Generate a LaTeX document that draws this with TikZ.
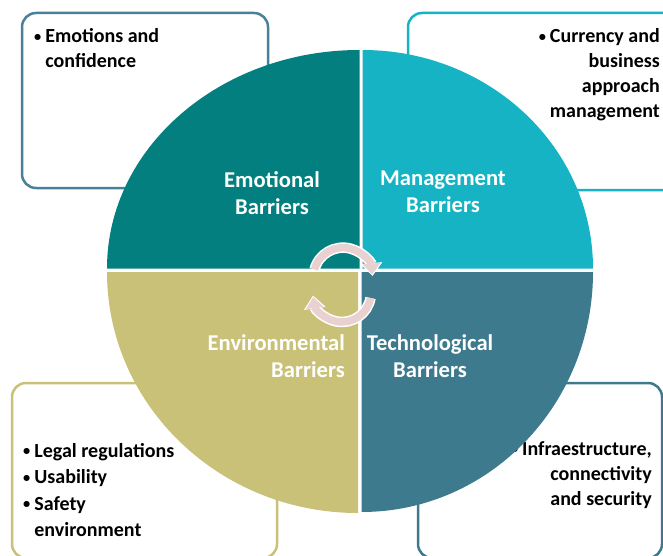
\documentclass[tikz,border=0pt]{standalone}
\usepackage{fontspec}
\setmainfont{Carlito}
\usetikzlibrary{arrows.meta}
\definecolor{emotional}{HTML}{037F7F}
\definecolor{management}{HTML}{15B3C3}
\definecolor{environmental}{HTML}{C9C177}
\definecolor{technological}{HTML}{3E7A8E}
\definecolor{emoline}{HTML}{4A8098}
\definecolor{cyclepink}{HTML}{E9D1D1}
\newcommand{\listdot}{\raisebox{1.5pt}{\scalebox{0.72}{\textbullet}}}
\begin{document}
\begin{tikzpicture}[x=1pt,y=-1pt,
    listbox/.style={line width=2.5pt,rounded corners=14pt},
    listtext/.style={inner sep=0pt,font=\bfseries\fontsize{20}{25}\selectfont},
    barrier/.style={inner sep=0pt,text=white,font=\bfseries\fontsize{22.6}{27}\selectfont},
    arrowrim/.style={white,line width=10.5pt,shorten >=-1.5pt,-{Triangle[width=21pt,length=13pt]}},
    arrowbody/.style={cyclepink,line width=7.5pt,-{Triangle[width=17pt,length=11pt]}}]
    \useasboundingbox (0,0) rectangle (663,556);
    \draw[listbox,emoline] (22,13) rectangle (268,188);
    \draw[listbox,management] (408,13) rectangle (690,190);
    \draw[listbox,environmental] (12,383) rectangle (277,558);
    \draw[listbox,technological] (418,383) rectangle (662,558);
    \node[listtext,anchor=base west] (emolist) at (34,43)
        {\begin{tabular}[t]{@{}l@{\hspace{4pt}}l@{}}\listdot & Emotions and\\ & confidence\end{tabular}};
    \node[listtext,anchor=base east] (mgmtlist) at (660,43)
        {\begin{tabular}[t]{@{}r@{}}\listdot\hspace{4pt}Currency and\\ business\\ approach\\ management\end{tabular}};
    \node[listtext,anchor=base west,font=\bfseries\fontsize{20}{26.5}\selectfont] (envlist) at (23,457)
        {\begin{tabular}[t]{@{}l@{\hspace{4pt}}l@{}}\listdot & Legal regulations\\ \listdot & Usability\\ \listdot & Safety\\ & environment\end{tabular}};
    \node[listtext,anchor=base east] (techlist) at (652,455)
        {\begin{tabular}[t]{@{}r@{}}\listdot\hspace{4pt}Infraestructure,\\ connectivity\\ and security\end{tabular}};
    \fill[emotional] (359.5,268.5) -- (107,268.5) arc[start angle=180,end angle=270,x radius=252.5,y radius=218.5] -- cycle;
    \fill[management] (362.5,268.5) -- (362.5,50) arc[start angle=270,end angle=360,x radius=230.5,y radius=218.5] -- cycle;
    \fill[environmental] (358,272) -- (358,513) arc[start angle=90,end angle=180,x radius=251,y radius=241] -- cycle;
    \fill[technological] (361.5,272) -- (593,272) arc[start angle=0,end angle=90,x radius=231.5,y radius=240] -- cycle;
    \node[barrier,anchor=base] (emolabel) at (272,187)
        {\begin{tabular}[t]{@{}c@{}}Emotional\\ Barriers\end{tabular}};
    \node[barrier,anchor=base] (mgmtlabel) at (443,185)
        {\begin{tabular}[t]{@{}c@{}}Management\\ Barriers\end{tabular}};
    \node[barrier,anchor=base east] (envlabel) at (345,350)
        {\begin{tabular}[t]{@{}r@{}}Environmental\\ Barriers\end{tabular}};
    \node[barrier,anchor=base] (techlabel) at (430,350)
        {\begin{tabular}[t]{@{}c@{}}Technological\\ Barriers\end{tabular}};
    \draw[arrowrim] (314.5,269.5) arc[start angle=195,end angle=355,radius=29.5];
    \draw[arrowbody] (314.5,269.5) arc[start angle=195,end angle=355,radius=29.5];
    \draw[arrowrim] (370.5,298) arc[start angle=10,end angle=172,radius=29];
    \draw[arrowbody] (370.5,298) arc[start angle=10,end angle=172,radius=29];
\end{tikzpicture}
\end{document}
